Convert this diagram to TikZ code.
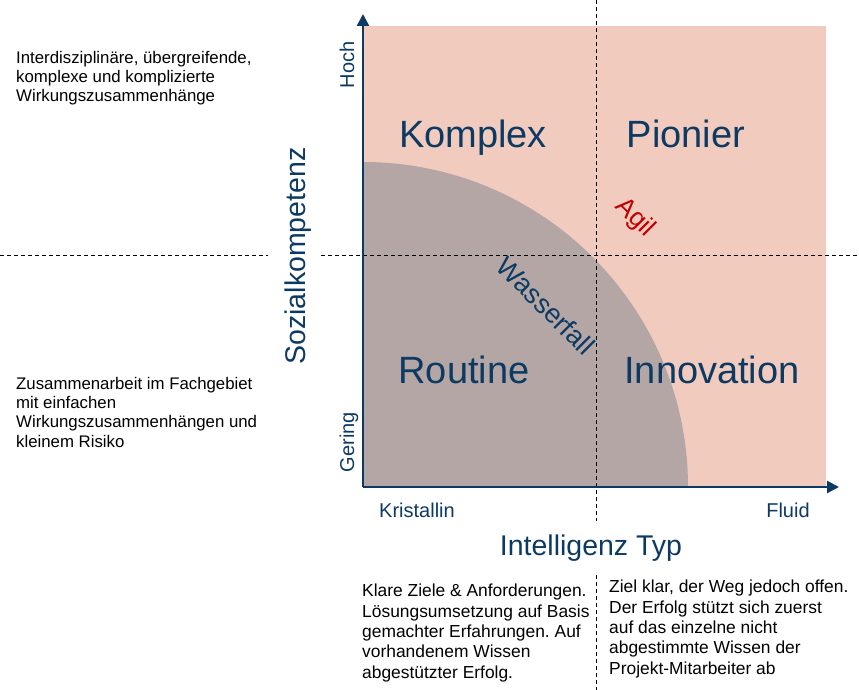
\documentclass[tikz,border=0pt]{standalone}
\usepackage{fontspec}
\setmainfont{Liberation Sans}
\usetikzlibrary{arrows.meta}
\frenchspacing

\definecolor{navy}{RGB}{12,58,99}
\definecolor{rosa}{RGB}{241,203,190}
\definecolor{taupe}{RGB}{180,166,165}
\definecolor{agilred}{RGB}{192,0,0}

\begin{document}
\begin{tikzpicture}[
    x=1pt, y=-1pt,
    >={Triangle[length=12pt, width=12pt]},
    axis/.style  = {line width=2.5pt, draw=navy},
    guide/.style = {line width=1pt, dash pattern=on 4pt off 3pt},
    field/.style = {font=\fontsize{38}{44}\selectfont, text=navy, inner sep=0pt, anchor=base},
    title/.style = {font=\fontsize{28.5}{34}\selectfont, text=navy, inner sep=0pt, anchor=base},
    tick/.style  = {font=\fontsize{20}{24}\selectfont, text=navy, inner sep=0pt, anchor=base},
    diag/.style  = {font=\fontsize{27}{32}\selectfont, inner sep=0pt, rotate=-45},
    note/.style  = {font=\fontsize{16.8}{19.3}\selectfont, align=left, inner sep=0pt, anchor=base west}
]
\useasboundingbox (0,0) rectangle (859,690);

% Quadrant field with the waterfall region
\coordinate (O)    at (363,487);
\coordinate (ytop) at (363,14);
\coordinate (xend) at (839,487);
\fill[rosa] (O) rectangle (826,26);
\begin{scope}
    \clip (O) rectangle (826,26);
    \fill[taupe] (O) circle[radius=325pt];
\end{scope}

% Dashed separators
\coordinate (vtop) at (596,0);   \coordinate (vmid) at (596,521);
\coordinate (vlow) at (596,575); \coordinate (vend) at (596,690);
\coordinate (hl0)  at (0,255);   \coordinate (hl1)  at (268,255);
\coordinate (hr0)  at (321,255); \coordinate (hr1)  at (859,255);
\draw[guide] (vtop) -- (vmid);
\draw[guide] (vlow) -- (vend);
\draw[guide] (hl0) -- (hl1);
\draw[guide] (hr0) -- (hr1);

% Axes
\draw[axis, ->] (O) -- (ytop);
\draw[axis, ->] (O) -- (xend);

% Quadrant labels
\node[field] (komplex) at (473,147) {Komplex};
\node[field] (pionier) at (686,147) {Pionier};
\node[field] (routine) at (464,383) {Routine};
\node[field] (innov)   at (712,383) {Innovation};
\node[diag, text=navy] (wasser) at (546,306) {Wasserfall};
\node[diag, text=agilred, font=\fontsize{26}{30}\selectfont] (agil) at (635,218) {Agil};

% Axis titles and ticks
\node[title] (xtitle) at (591,555) {Intelligenz Typ};
\node[title, rotate=90] (ytitle) at (305,256) {Sozialkompetenz};
\node[tick, rotate=90] (hoch)   at (354,65)  {Hoch};
\node[tick, rotate=90] (gering) at (354,442) {Gering};
\node[tick] (krist) at (417,517) {Kristallin};
\node[tick] (fluid) at (788,517) {Fluid};

% Notes (anchored at the baseline of their last line)
\node[note] (komplexnote) at (16,102)
    {Interdisziplinäre, übergreifende,\\komplexe und komplizierte\\Wirkungszusammenhänge};
\node[note] (routinenote) at (16,447)
    {Zusammenarbeit im Fachgebiet\\mit einfachen\\Wirkungszusammenhängen und\\kleinem Risiko};
\node[note, font=\fontsize{17.4}{20.3}\selectfont] (wassernote) at (362,678)
    {Klare Ziele \& Anforderungen.\\Lösungsumsetzung auf Basis\\gemachter Erfahrungen. Auf\\vorhandenem Wissen\\abgestützter Erfolg.};
\node[note, font=\fontsize{17.4}{20.3}\selectfont] (agilnote) at (609,674)
    {Ziel klar, der Weg jedoch offen.\\Der Erfolg stützt sich zuerst\\auf das einzelne nicht\\abgestimmte Wissen der\\Projekt-Mitarbeiter ab};

\end{tikzpicture}
\end{document}
